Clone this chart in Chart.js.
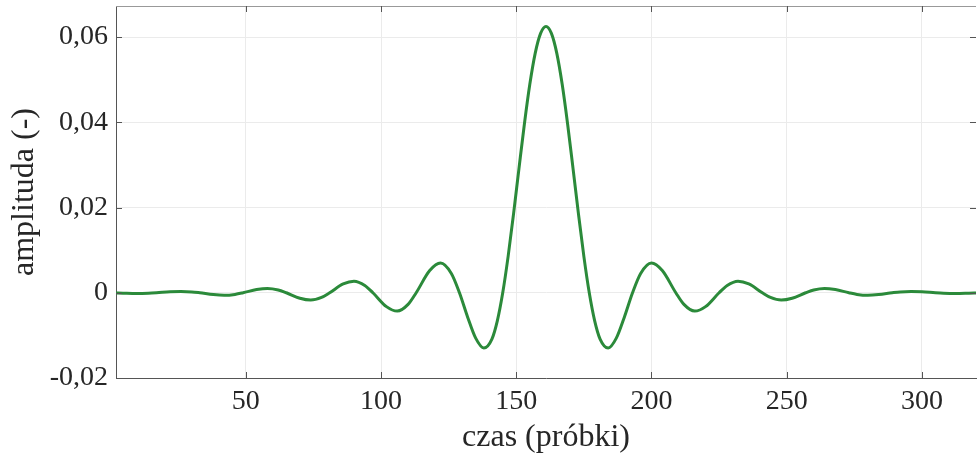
<!DOCTYPE html>
<html>
<head>
<meta charset="utf-8">
<script src="https://cdn.jsdelivr.net/npm/chart.js@4.4.0/dist/chart.umd.min.js"></script>
<style>
  html, body { margin: 0; padding: 0; background: #fff; }
</style>
</head>
<body>
<canvas id="chFiltr" width="977" height="457"></canvas>
<script>
// numer probki (os x)
var samples = [
    1, 6, 10, 14, 17, 22, 26, 30, 33, 38, 42, 46, 49, 54, 58, 62, 65, 70, 74, 78,
    81, 86, 90, 94, 97, 102, 106, 110, 113, 118, 122, 126, 129, 132, 135, 138, 141, 143,
    145, 147, 149, 151, 153, 155, 157, 159, 161, 163, 165, 167, 169, 171, 173, 175, 177,
    179, 181, 184, 187, 190, 193, 196, 200, 204, 209, 212, 216, 220, 225, 228, 232, 236,
    241, 244, 248, 252, 257, 260, 264, 268, 273, 276, 280, 284, 289, 292, 296, 300, 305,
    308, 312, 316, 321
];

// amplituda
var amplitude = [
    0, -0.00014, -0.00018, -0.00011, 0, 0.00023, 0.00031, 0.00021, 0, -0.00042, -0.00058, -0.00038, 0,
    0.00076, 0.00103, 0.00067, 0, -0.00128, -0.00171, -0.00109, 0, 0.00207, 0.00273, 0.00173, 0,
    -0.00325, -0.00430, -0.00273, 0, 0.00521, 0.00698, 0.00453, 0, -0.00566, -0.01065, -0.01295,
    -0.01086, -0.00658, 0, 0.00855, 0.01852, 0.02915, 0.03956, 0.04886, 0.05619, 0.06088, 0.0625,
    0.06088, 0.05619, 0.04886, 0.03956, 0.02915, 0.01852, 0.00855, 0, -0.00658, -0.01086, -0.01295,
    -0.01065, -0.00566, 0, 0.00453, 0.00698, 0.00521, 0, -0.00273, -0.00430, -0.00325, 0, 0.00173,
    0.00273, 0.00207, 0, -0.00109, -0.00171, -0.00128, 0, 0.00067, 0.00103, 0.00076, 0, -0.00038,
    -0.00058, -0.00042, 0, 0.00021, 0.00031, 0.00023, 0, -0.00011, -0.00018, -0.00014, 0
];

var xTicks = [50, 100, 150, 200, 250, 300];
var yTicks = [-0.02, 0, 0.02, 0.04, 0.06];

var lineColor = '#2b8a3a';
var gridColor = '#ebebeb';
var axisColor = '#555555';
var textColor = '#262626';
var fontFamily = '"Liberation Serif", "Times New Roman", serif';

// ticks drawn inside the box, like matlab does
var insideTicks = {
    id: 'insideTicks',
    afterDatasetsDraw: function(chart) {
        var ctx = chart.ctx, a = chart.chartArea;
        var sx = chart.scales.x, sy = chart.scales.y;
        var len = 6;
        ctx.save();
        ctx.lineWidth = 1;
        ctx.strokeStyle = '#999999';
        ctx.beginPath();
        ctx.moveTo(a.left, a.top + 0.5);
        ctx.lineTo(a.right, a.top + 0.5);
        ctx.stroke();
        ctx.strokeStyle = axisColor;
        ctx.beginPath();
        xTicks.forEach(function(v) {
            var px = Math.round(sx.getPixelForValue(v)) + 0.5;
            ctx.moveTo(px, a.bottom);
            ctx.lineTo(px, a.bottom - len);
            ctx.moveTo(px, a.top);
            ctx.lineTo(px, a.top + len);
        });
        yTicks.forEach(function(v) {
            var py = Math.round(sy.getPixelForValue(v)) + 0.5;
            ctx.moveTo(a.left, py);
            ctx.lineTo(a.left + len, py);
            ctx.moveTo(a.right, py);
            ctx.lineTo(a.right - len, py);
        });
        ctx.stroke();
        ctx.restore();
    }
};

var points = samples.map(function(x, i) {
    return { x: x, y: amplitude[i] };
});

new Chart(document.getElementById('chFiltr'), {
    type: 'line',
    data: {
        datasets: [{
            data: points,
            borderColor: lineColor,
            borderWidth: 3,
            pointRadius: 0,
            cubicInterpolationMode: 'monotone',
            fill: false
        }]
    },
    options: {
        responsive: false,
        animation: false,
        devicePixelRatio: 1,
        layout: { padding: { top: 6, right: 1, left: 0, bottom: 0 } },
        plugins: {
            legend: { display: false },
            tooltip: { enabled: false }
        },
        scales: {
            x: {
                type: 'linear',
                min: 2,
                max: 320,
                afterBuildTicks: function(s) { s.ticks = xTicks.map(function(v) { return { value: v }; }); },
                afterFit: function(s) {
                    s.height = 79;
                    s.paddingLeft = 0;
                    s.paddingRight = 0;
                },
                grid: { color: gridColor, drawTicks: false },
                border: { color: axisColor },
                ticks: {
                    padding: 7,
                    color: textColor,
                    maxRotation: 0,
                    autoSkip: false,
                    font: { family: fontFamily, size: 28 }
                },
                title: {
                    display: true,
                    text: 'czas (próbki)',
                    color: textColor,
                    padding: 0,
                    font: { family: fontFamily, size: 32 }
                }
            },
            y: {
                min: -0.02,
                max: 0.0673,
                afterBuildTicks: function(s) { s.ticks = yTicks.map(function(v) { return { value: v }; }); },
                afterFit: function(s) {
                    s.width = 116;
                    s.paddingTop = 0;
                    s.paddingBottom = 0;
                },
                grid: { color: gridColor, drawTicks: false },
                border: { color: axisColor },
                ticks: {
                    padding: 8,
                    color: textColor,
                    font: { family: fontFamily, size: 28 },
                    callback: function(v) {
                        if (v === 0) return '0';
                        return v.toFixed(2).replace('.', ',');
                    }
                },
                title: {
                    display: true,
                    text: 'amplituda (-)',
                    color: textColor,
                    padding: { top: 5, bottom: 0 },
                    font: { family: fontFamily, size: 32 }
                }
            }
        }
    },
    plugins: [insideTicks]
});
</script>
</body>
</html>
